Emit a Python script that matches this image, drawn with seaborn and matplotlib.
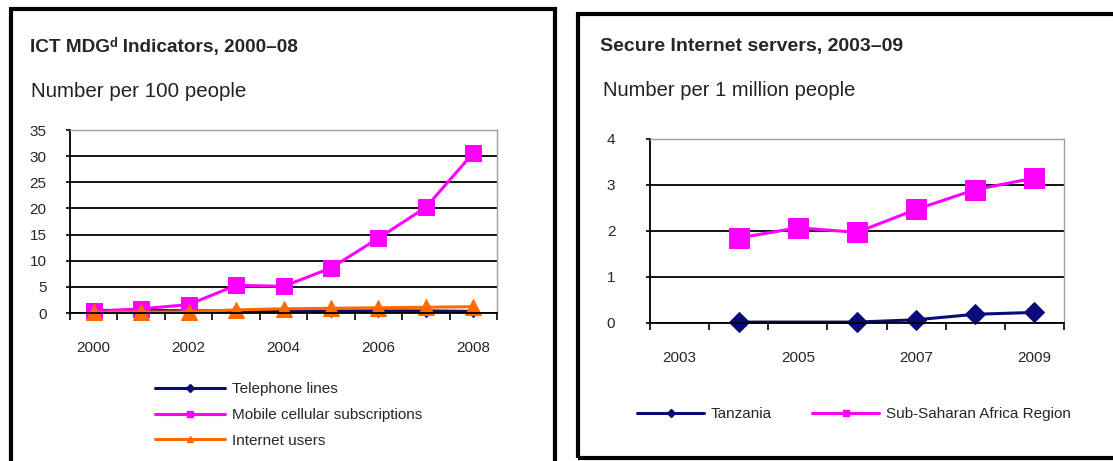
import numpy as np
import pandas as pd
import matplotlib
matplotlib.use("Agg")
import matplotlib.pyplot as plt
from matplotlib.lines import Line2D
from matplotlib.patches import Rectangle
import seaborn as sns

# ---------------- data ----------------
years_left = [2000, 2001, 2002, 2003, 2004, 2005, 2006, 2007, 2008]
telephone_lines = [0.5, 0.5, 0.4, 0.4, 0.4, 0.4, 0.4, 0.4, 0.3]
mobile_subs = [0.3, 0.8, 1.6, 5.3, 5.1, 8.6, 14.3, 20.2, 30.6]
internet_users = [0.1, 0.2, 0.2, 0.6, 0.8, 0.9, 1.0, 1.1, 1.2]
left_xticks = [2000, 2002, 2004, 2006, 2008]
left_yticks = [0, 5, 10, 15, 20, 25, 30, 35]

years_right = [2003, 2004, 2005, 2006, 2007, 2008, 2009]
tanzania = [np.nan, 0.02, np.nan, 0.02, 0.07, 0.19, 0.23]
ssa_region = [np.nan, 1.85, 2.07, 1.97, 2.47, 2.90, 3.15]
right_xticks = [2003, 2005, 2007, 2009]
right_yticks = [0, 1, 2, 3, 4]

left_title = "ICT MDG\u1d48 Indicators, 2000\u201308"
left_sub = "Number per 100 people"
right_title = "Secure Internet servers, 2003\u201309"
right_sub = "Number per 1 million people"

NAVY = "#0a0a78"
MAGENTA = "#ff00ff"
ORANGE = "#ff6a00"

sns.set_style("white")
plt.rcParams["font.family"] = ["Liberation Sans", "DejaVu Sans"]

W, H = 1113, 461
fig = plt.figure(figsize=(W / 100, H / 100), dpi=100)


def fx(px):
    return px / W


def fy(py):
    return 1 - py / H


def style_axes(ax, xlim, ylim, yticks, xticks, minor, ypad):
    ax.set_xlim(*xlim)
    ax.set_ylim(*ylim)
    ax.set_yticks(yticks)
    ax.set_xticks(xticks)
    ax.set_xticks(minor, minor=True)
    ax.set_xticklabels([str(t) for t in xticks])
    ax.grid(axis="y", color="black", linewidth=1.3)
    ax.set_axisbelow(True)
    for s in ["top", "right"]:
        ax.spines[s].set_color("#a0a0a0")
        ax.spines[s].set_linewidth(1.0)
    for s in ["left", "bottom"]:
        ax.spines[s].set_color("black")
        ax.spines[s].set_linewidth(1.3)
    ax.tick_params(axis="y", which="major", left=True, length=3, width=1.2,
                   labelsize=11, pad=ypad, color="black")
    ax.tick_params(axis="x", which="major", bottom=False, labelsize=11, pad=17)
    ax.tick_params(axis="x", which="minor", bottom=True, length=5, width=1.2, color="black")
    ax.set_xlabel("")
    ax.set_ylabel("")
    for ln in ax.get_lines():
        ln.set_clip_on(False)


# ---------------- left chart ----------------
axL = fig.add_axes([fx(70), fy(313), fx(497 - 70), (313 - 130) / H])
dfL = pd.DataFrame({"year": years_left, "tel": telephone_lines,
                    "mob": mobile_subs, "inet": internet_users})
sns.lineplot(data=dfL, x="year", y="tel", ax=axL, color=NAVY, linewidth=2.2,
             marker="D", markersize=6, markeredgecolor=NAVY)
sns.lineplot(data=dfL, x="year", y="mob", ax=axL, color=MAGENTA, linewidth=2.2,
             marker="s", markersize=12, markeredgecolor=MAGENTA)
sns.lineplot(data=dfL, x="year", y="inet", ax=axL, color=ORANGE, linewidth=2.2,
             marker="^", markersize=12, markeredgecolor=ORANGE)
style_axes(axL, (1999.5, 2008.5), (0, 35), left_yticks, left_xticks,
           np.arange(1999.5, 2009.0, 1.0), 14)

fig.text(fx(30), fy(47), left_title, fontsize=13.7, fontweight="bold",
         va="center", ha="left")
fig.text(fx(31), fy(91), left_sub, fontsize=14.8, va="center", ha="left",
         color="#222222")

handlesL = [
    Line2D([], [], color=NAVY, lw=2.2, marker="D", markersize=4),
    Line2D([], [], color=MAGENTA, lw=2.2, marker="s", markersize=5),
    Line2D([], [], color=ORANGE, lw=2.2, marker="^", markersize=5),
]
fig.legend(handlesL, ["Telephone lines", "Mobile cellular subscriptions", "Internet users"],
           loc="upper left", bbox_to_anchor=(fx(155), fy(382)), frameon=False,
           fontsize=11, handlelength=4.6, handletextpad=0.45, labelspacing=0.78,
           borderaxespad=0, borderpad=0)

# ---------------- right chart ----------------
axR = fig.add_axes([fx(650), fy(323), fx(1064 - 650), (323 - 139) / H])
dfR = pd.DataFrame({"year": years_right, "tz": tanzania, "ssa": ssa_region})
sns.lineplot(data=dfR.dropna(subset=["tz"]), x="year", y="tz", ax=axR, color=NAVY,
             linewidth=2.2, marker="D", markersize=10, markeredgecolor=NAVY)
sns.lineplot(data=dfR.dropna(subset=["ssa"]), x="year", y="ssa", ax=axR, color=MAGENTA,
             linewidth=2.2, marker="s", markersize=14, markeredgecolor=MAGENTA)
style_axes(axR, (2002.5, 2009.5), (0, 4), right_yticks, right_xticks,
           np.arange(2002.5, 2010.0, 1.0), 22)

fig.text(fx(600), fy(46), right_title, fontsize=14, fontweight="bold",
         va="center", ha="left")
fig.text(fx(603), fy(90), right_sub, fontsize=14.5, va="center", ha="left",
         color="#222222")

handlesR = [
    Line2D([], [], color=NAVY, lw=2.2, marker="D", markersize=4),
    Line2D([], [], color=MAGENTA, lw=2.2, marker="s", markersize=5),
]
fig.legend(handlesR, ["Tanzania", "Sub-Saharan Africa Region"],
           loc="center left", bbox_to_anchor=(fx(637), fy(414)), frameon=False,
           fontsize=11, ncol=2, handlelength=4.4, handletextpad=0.45,
           columnspacing=2.6, borderaxespad=0, borderpad=0)

# ---------------- panel frames ----------------
fig.patches.append(Rectangle((fx(10.5), fy(480)), fx(555 - 10.5), (480 - 9.5) / H,
                             transform=fig.transFigure, fill=False,
                             edgecolor="black", linewidth=3.0))
fig.patches.append(Rectangle((fx(578), fy(458)), fx(1130 - 578), (458 - 14) / H,
                             transform=fig.transFigure, fill=False,
                             edgecolor="black", linewidth=3.0))

fig.savefig("out.png", dpi=100)
